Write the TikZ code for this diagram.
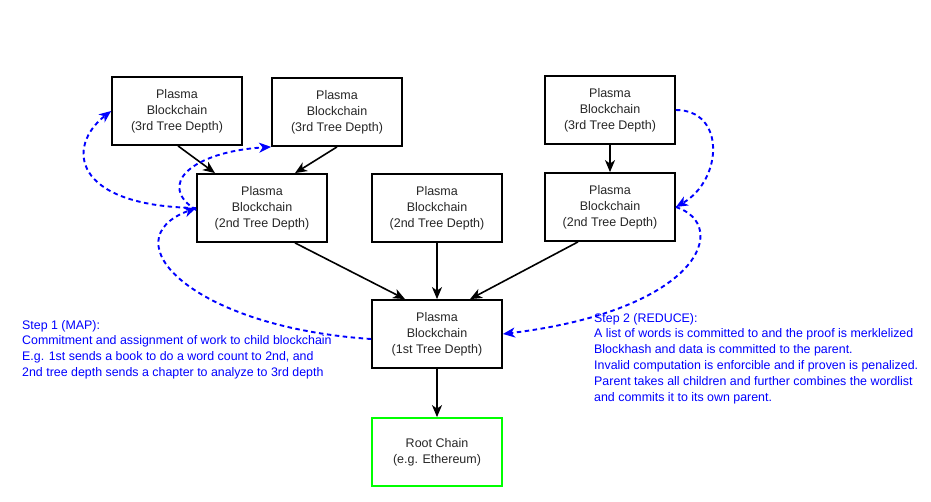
\documentclass[tikz,border=0pt]{standalone}
\usepackage{fontspec}
\setmainfont{Liberation Sans}
\usetikzlibrary{arrows.meta}
\definecolor{boxgreen}{RGB}{0,255,0}
\definecolor{stepblue}{RGB}{0,0,255}
\begin{document}
\begin{tikzpicture}[x=1pt,y=-1pt,
  chainbox/.style={draw=black, line width=1.8pt, minimum width=130pt, minimum height=68pt,
    align=center, inner sep=0pt, font=\fontsize{12.5}{16}\selectfont, text=black!85},
  rootbox/.style={chainbox, draw=boxgreen},
  flow/.style={line width=1.6pt, -{Stealth[length=12pt,width=10pt,inset=3.5pt]}},
  mapreduce/.style={draw=stepblue, line width=1.9pt, dash pattern=on 4.5pt off 3.5pt,
    -{Stealth[length=12pt,width=10pt,inset=3.5pt]}},
  steptext/.style={align=left, inner sep=0pt, text=stepblue, font=\fontsize{12.4}{15.8}\selectfont}
]
\useasboundingbox (0,0) rectangle (931,501);

\node[chainbox] (A) at (177,111) {Plasma\\Blockchain\\(3rd Tree Depth)};
\node[chainbox] (B) at (337,112) {Plasma\\Blockchain\\(3rd Tree Depth)};
\node[chainbox] (C) at (262,208) {Plasma\\Blockchain\\(2nd Tree Depth)};
\node[chainbox] (D) at (437,208) {Plasma\\Blockchain\\(2nd Tree Depth)};
\node[chainbox] (E) at (610,110) {Plasma\\Blockchain\\(3rd Tree Depth)};
\node[chainbox] (F) at (610,207) {Plasma\\Blockchain\\(2nd Tree Depth)};
\node[chainbox] (G) at (437,334) {Plasma\\Blockchain\\(1st Tree Depth)};
\node[rootbox] (H) at (437,452) {Root Chain\\(e.g. Ethereum)};

\draw[flow] ([xshift=1pt]A.south) -- ([xshift=-47pt]C.north);
\draw[flow] (B.south) -- ([xshift=33pt]C.north);
\draw[flow] (E.south) -- (F.north);
\draw[flow] ([xshift=33pt]C.south) -- ([xshift=-32pt]G.north);
\draw[flow] (D.south) -- (G.north);
\draw[flow] ([xshift=-32pt]F.south) -- ([xshift=33pt]G.north);
\draw[flow] (G.south) -- (H.north);

% Step 1 (MAP) curves
\draw[mapreduce] (C.west) .. controls +(-125,-2) and +(-45,35) .. (A.west);
\draw[mapreduce] ([yshift=-2pt]C.west) .. controls +(-40,-25) and +(-80,5) .. (B.south west);
\draw[mapreduce] ([yshift=-5pt]G.west) .. controls +(-180,-12) and +(-87,32) .. (C.west);
% Step 2 (REDUCE) curves
\draw[mapreduce] (E.east) .. controls +(50,0) and +(47,-27) .. (F.east);
\draw[mapreduce] (F.east) .. controls +(55,18) and +(198,-24) .. (G.east);

\node[steptext, anchor=north west] (S1) at (22,320) {Step 1 (MAP):\\Commitment and assignment of work to child blockchain\\E.g. 1st sends a book to do a word count to 2nd, and\\2nd tree depth sends a chapter to analyze to 3rd depth};
\node[steptext, anchor=north west] (S2) at (594,313) {Step 2 (REDUCE):\\A list of words is committed to and the proof is merklelized\\Blockhash and data is committed to the parent.\\Invalid computation is enforcible and if proven is penalized.\\Parent takes all children and further combines the wordlist\\and commits it to its own parent.};
\end{tikzpicture}
\end{document}
